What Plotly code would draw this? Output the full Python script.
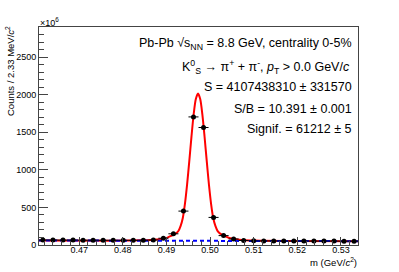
import plotly.graph_objects as go

# ---- data (counts in units of 1e6) ----
bin_centers = [0.4617, 0.4640, 0.4663, 0.4686, 0.4709, 0.4732, 0.4755, 0.4778,
               0.4801, 0.4824, 0.4847, 0.4870, 0.4893, 0.4916, 0.4939, 0.4962,
               0.4985, 0.5008, 0.5031, 0.5054, 0.5077, 0.5100, 0.5123, 0.5146,
               0.5169, 0.5192, 0.5215, 0.5238, 0.5261, 0.5284, 0.5307, 0.5330]
counts = [66, 66, 65, 65, 64, 64, 63, 63, 62, 62, 63, 66, 90, 149, 451, 1704,
          1563, 367, 125, 80, 60, 55, 54, 54, 53, 53, 53, 52, 52, 52, 51, 51]
bin_half_width = [0.00115] * len(bin_centers)

fit_x = [0.4608, 0.47724, 0.48424, 0.48724, 0.48924, 0.49024, 0.49124, 0.49224,
         0.49274, 0.49324, 0.49374, 0.49424, 0.49474, 0.49524, 0.49574, 0.49624,
         0.49674, 0.49724, 0.49774, 0.49824, 0.49874, 0.49924, 0.49974, 0.50024,
         0.50074, 0.50124, 0.50174, 0.50224, 0.50324, 0.50424, 0.50524, 0.50724,
         0.51024, 0.51724, 0.5339]
fit_y = [60, 58.0, 62.1, 69.8, 84.5, 98.4, 126.3, 156.1, 186.1, 251, 356, 546,
         806, 1116, 1441, 1736, 1941, 2016, 1941, 1735, 1440, 1115, 805, 545,
         355, 250, 185, 155, 125, 97, 83, 67, 59, 53, 51]

bkg_x = [0.4608, 0.5339]
bkg_y = [60, 51]

x_range = [0.4608, 0.5339]
y_range = [0, 2900]

FONT = "Liberation Sans, Arial, sans-serif"
AX = "#444444"

fig = go.Figure()
fig.add_trace(go.Scatter(x=fit_x, y=fit_y, mode="lines",
                         line=dict(color="#ff0000", width=2, shape="spline", smoothing=0.8),
                         hoverinfo="skip"))
fig.add_trace(go.Scatter(x=bkg_x, y=bkg_y, mode="lines",
                         line=dict(color="#0000ff", width=2, dash="4px,3px"),
                         hoverinfo="skip"))
fig.add_trace(go.Scatter(x=bin_centers, y=counts, mode="markers",
                         marker=dict(color="black", size=5),
                         error_x=dict(type="data", array=bin_half_width, width=0,
                                      thickness=1, color="black")))

fig.update_layout(
    width=399, height=272, autosize=False,
    margin=dict(l=39, r=41, t=27, b=27),
    plot_bgcolor="white", paper_bgcolor="white",
    showlegend=False,
    font=dict(family=FONT, size=9, color="black"),
)
fig.update_xaxes(range=x_range, showgrid=False, zeroline=False,
                 showline=True, linecolor=AX, linewidth=1, mirror=True,
                 ticks="inside", ticklen=8, tickcolor=AX, tickwidth=1,
                 tickmode="linear", tick0=0.47, dtick=0.01, tickformat=".2f",
                 minor=dict(ticks="inside", ticklen=4, tickcolor=AX, dtick=0.002, tick0=0.47),
                 tickfont=dict(size=9), automargin=False, ticklabelstandoff=-4)
fig.update_yaxes(range=y_range, showgrid=False, zeroline=False,
                 showline=True, linecolor=AX, linewidth=1, mirror=True,
                 ticks="inside", ticklen=9, tickcolor=AX, tickwidth=1,
                 tickmode="linear", tick0=0, dtick=500,
                 minor=dict(ticks="inside", ticklen=5, tickcolor=AX, dtick=100),
                 tickfont=dict(size=9), automargin=False)

def px(xp):
    return (xp - 39) / 319.0

def py(yp):
    return (245 - yp) / 218.0

lines = [
    ("Pb-Pb √s<sub>NN</sub> = 8.8 GeV, centrality 0-5%", 354, 44),
    ("K<sup>0</sup><sub>S</sub> → π<sup>+</sup> + π<sup>-</sup>, <i>p</i><sub>T</sub> > 0.0 GeV/<i>c</i>", 352, 66.5),
    ("S = 4107438310 ± 331570", 354, 86.5),
    ("S/B = 10.391 ± 0.001", 354, 108.5),
    ("Signif. = 61212 ± 5", 354, 129),
]
for txt, xr, yc in lines:
    fig.add_annotation(text=txt, xref="paper", yref="paper", x=px(xr), y=py(yc),
                       xanchor="right", yanchor="middle", showarrow=False,
                       font=dict(size=12.5, family=FONT, color="black"))

fig.add_annotation(text="×10<sup>6</sup>", xref="paper", yref="paper",
                   x=px(38), y=py(22.5), xanchor="left", yanchor="middle",
                   showarrow=False, font=dict(size=9, family=FONT))
fig.add_annotation(text="Counts / 2.33 MeV/<i>c</i><sup>2</sup>", xref="paper", yref="paper",
                   x=px(2), y=py(24), xanchor="left", yanchor="top", textangle=-90,
                   showarrow=False, font=dict(size=9.5, family=FONT))
fig.add_annotation(text="m (GeV/<i>c</i><sup>2</sup>)", xref="paper", yref="paper",
                   x=px(359), y=py(262), xanchor="right", yanchor="middle",
                   showarrow=False, font=dict(size=9.5, family=FONT))

fig.write_html("out.html", config={"displayModeBar": False},
               post_script="document.body.style.margin='0';")
